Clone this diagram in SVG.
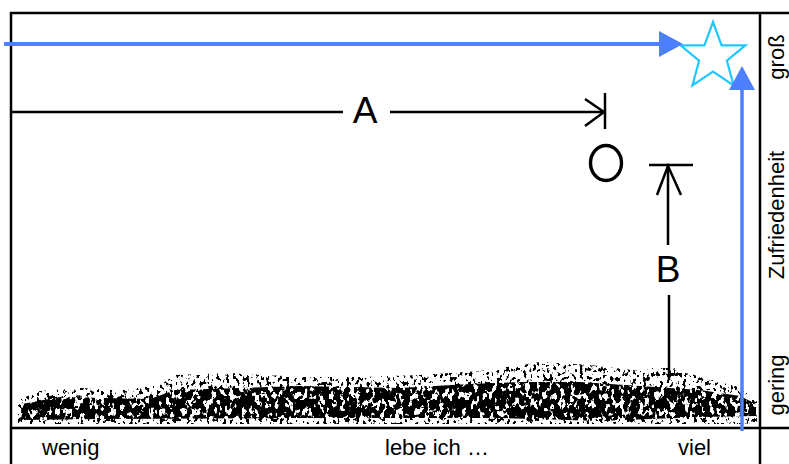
<svg xmlns="http://www.w3.org/2000/svg" width="789" height="464" viewBox="0 0 789 464">
<style>
.frame{stroke:#000;stroke-width:2.5;fill:none}
.blue{stroke:#4d7fff;fill:none}
.dim{stroke:#000;stroke-width:2.5;fill:none;stroke-linecap:butt}
.lbl{font-family:"Liberation Sans",Arial,sans-serif;font-size:22px;fill:#000}
.big{font-family:"Liberation Sans",Arial,sans-serif;font-size:37px;fill:#000;text-anchor:middle}
</style>
<defs>
<marker id="blueHead" markerUnits="userSpaceOnUse" markerWidth="26" markerHeight="26" refX="2" refY="13" orient="auto">
<path d="M0,0 L24,13 L0,26 z" fill="#4d7fff"/>
</marker>
<filter id="dense" x="0" y="0" width="1" height="1" color-interpolation-filters="sRGB">
<feTurbulence type="fractalNoise" baseFrequency="0.2 0.12" numOctaves="2" seed="11" result="n"/>
<feColorMatrix in="n" type="matrix" values="0 0 0 0 0  0 0 0 0 0  0 0 0 0 0  20 0 0 0 -8.4" result="m"/>
<feComposite in="m" in2="SourceGraphic" operator="in"/>
</filter>
<filter id="sparse" x="0" y="0" width="1" height="1" color-interpolation-filters="sRGB">
<feTurbulence type="fractalNoise" baseFrequency="0.3 0.22" numOctaves="2" seed="5" result="n"/>
<feColorMatrix in="n" type="matrix" values="0 0 0 0 0  0 0 0 0 0  0 0 0 0 0  20 0 0 0 -11.4" result="m"/>
<feComposite in="m" in2="SourceGraphic" operator="in"/>
</filter>
</defs>
<rect width="789" height="464" fill="#fff"/>

<g id="ground">
<path filter="url(#sparse)" fill="#000" d="M18,420 L18,400 L40,391 L80,388 L120,390 L160,385 L175,375 L230,373 L300,377 L360,377 L420,375 L480,371 L540,362 L590,365 L640,371 L665,365 L700,377 L740,387 L757,400 L757,424 L18,424 Z"/>
<path filter="url(#dense)" fill="#000" d="M20,420 L22,404 L60,397 L150,399 L175,390 L240,388 L300,386 L400,388 L470,384 L520,382 L580,382 L640,386 L700,390 L740,396 L756,404 L756,416 L700,417 L600,421 L500,418 L300,418 L100,419 Z"/>
</g>

<g id="frame">
<line class="frame" x1="10" y1="13" x2="789" y2="13"/>
<line class="frame" x1="11" y1="12" x2="11" y2="464"/>
<line class="frame" x1="10" y1="428" x2="789" y2="428"/>
<line class="frame" x1="760" y1="12" x2="760" y2="464"/>
</g>

<g id="x-labels">
<text class="lbl" x="42" y="455">wenig</text>
<text class="lbl" x="385" y="455">lebe ich …</text>
<text class="lbl" x="678" y="455">viel</text>
</g>

<g id="y-labels">
<text class="lbl" text-anchor="middle" transform="translate(784,57) rotate(-90)">groß</text>
<text class="lbl" text-anchor="middle" transform="translate(784,215) rotate(-90)">Zufriedenheit</text>
<text class="lbl" text-anchor="middle" transform="translate(784,385) rotate(-90)">gering</text>
</g>

<g id="star">
<polygon fill="#fff" stroke="#1ec8ff" stroke-width="2.2" points="713,22 721.6,45.3 745.4,45.4 726.9,60.7 733.6,85.5 713,71.6 692.4,85.5 699.1,60.7 680.6,45.4 704.4,45.3"/>
</g>

<g id="person">
<ellipse cx="606" cy="163" rx="15.5" ry="17.5" fill="none" stroke="#000" stroke-width="3.4"/>
</g>

<g id="dimension-A">
<line class="dim" x1="11" y1="112" x2="343" y2="112"/>
<text class="big" x="365" y="123">A</text>
<line class="dim" x1="390" y1="112" x2="604" y2="112"/>
<polyline class="dim" points="585,99 604,112 585,126"/>
<line class="dim" x1="605" y1="93" x2="605" y2="129"/>
</g>

<g id="dimension-B">
<line class="dim" x1="649" y1="165" x2="693" y2="165"/>
<polyline class="dim" points="657,195 668,166 681,195"/>
<line class="dim" x1="668" y1="166" x2="668" y2="245"/>
<text class="big" x="668" y="282">B</text>
<line class="dim" x1="669" y1="295" x2="669" y2="380"/>
</g>

<g id="connectors">
<line class="blue" stroke-width="4" x1="4" y1="44" x2="661" y2="44" marker-end="url(#blueHead)"/>
<line class="blue" stroke-width="3.5" x1="742" y1="431" x2="742" y2="88" marker-end="url(#blueHead)"/>
</g>
</svg>
